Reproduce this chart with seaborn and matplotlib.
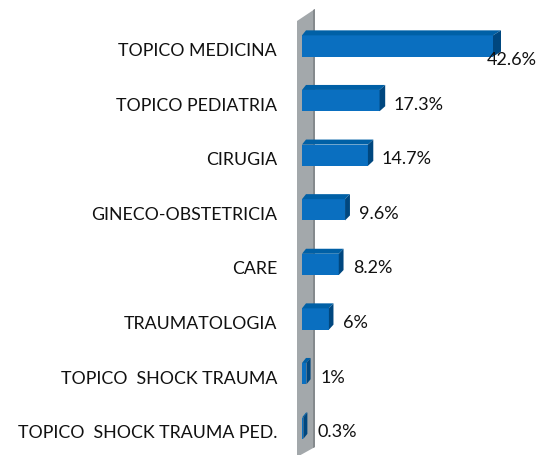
import matplotlib
matplotlib.use("Agg")
import matplotlib.pyplot as plt
from matplotlib.patches import Polygon
from matplotlib.transforms import IdentityTransform
import seaborn as sns
import pandas as pd

# datos
servicios = ["TOPICO MEDICINA", "TOPICO PEDIATRIA", "CIRUGIA", "GINECO-OBSTETRICIA",
             "CARE", "TRAUMATOLOGIA", "TOPICO  SHOCK TRAUMA", "TOPICO  SHOCK TRAUMA PED."]
porcentajes = [42.6, 17.3, 14.7, 9.6, 8.2, 6, 1, 0.3]
etiquetas = ["42.6%", "17.3%", "14.7%", "9.6%", "8.2%", "6%", "1%", "0.3%"]

sns.set_theme(style="white")
plt.rcParams["font.family"] = ["Lato", "DejaVu Sans"]

W, H = 547, 456
fig = plt.figure(figsize=(W / 100, H / 100), dpi=100)
x0_px = 302
px_per_unit = 191 / 42.6
ax = fig.add_axes([x0_px / W, 0, (W - x0_px) / W, 1])

df = pd.DataFrame({"servicio": servicios, "pct": porcentajes})
sns.barplot(data=df, x="pct", y="servicio", orient="h", color="#0A6FC0",
            width=0.39, ax=ax, zorder=3, edgecolor="none", saturation=1)

ax.set_xlim(0, (W - x0_px) / px_per_unit)
ax.set_ylim((H - 47) / 54.6, -47 / 54.6)
ax.axis("off")

ident = IdentityTransform()

# pared gris (efecto 3D)
ax.add_patch(Polygon([(297, H - 22), (297, -2), (315, 8), (315, H - 10)],
                     closed=True, facecolor="#A3A8AB", edgecolor="none",
                     transform=ident, zorder=1, clip_on=False))
ax.add_patch(Polygon([(313, H - 11), (313, 7), (315, 8), (315, H - 10)], closed=True,
                     facecolor="#858A8D", edgecolor="none", transform=ident,
                     zorder=1, clip_on=False))

# caras superior y lateral de las barras
dy = 5
for p in ax.patches[:len(porcentajes)]:
    x, y = p.get_x(), p.get_y()
    w, h = p.get_width(), p.get_height()
    (lx, ty) = ax.transData.transform((x, y))
    (rx, by) = ax.transData.transform((x + w, y + h))
    top = max(ty, by)
    bot = min(ty, by)
    dxl = 4
    dxr = 4 + 4 * (rx - lx) / 191
    ax.add_patch(Polygon([(lx, top), (rx, top), (rx + dxr, top + dy), (lx + dxl, top + dy)],
                         closed=True, facecolor="#0060A6", edgecolor="none",
                         transform=ident, zorder=4, clip_on=False))
    ax.add_patch(Polygon([(rx, bot), (rx + dxr, bot + dy), (rx + dxr, top + dy), (rx, top)],
                         closed=True, facecolor="#00477F", edgecolor="none",
                         transform=ident, zorder=4, clip_on=False))

# etiquetas de datos
for i, (val, txt) in enumerate(zip(porcentajes, etiquetas)):
    if i == 0:
        off = (-6, -13)
    else:
        off = (14, -3)
    ax.annotate(txt, xy=(val, i), xytext=off, textcoords="offset pixels",
                ha="left", va="center", fontsize=13, color="#111111", zorder=6,
                annotation_clip=False)

# etiquetas de categorias
for i, nombre in enumerate(servicios):
    ax.annotate(nombre, xy=(0, i), xycoords=("axes fraction", "data"),
                xytext=(-25, -4), textcoords="offset pixels",
                ha="right", va="center", fontsize=12.8, color="#111111",
                annotation_clip=False)

fig.savefig("out.png", dpi=100)
